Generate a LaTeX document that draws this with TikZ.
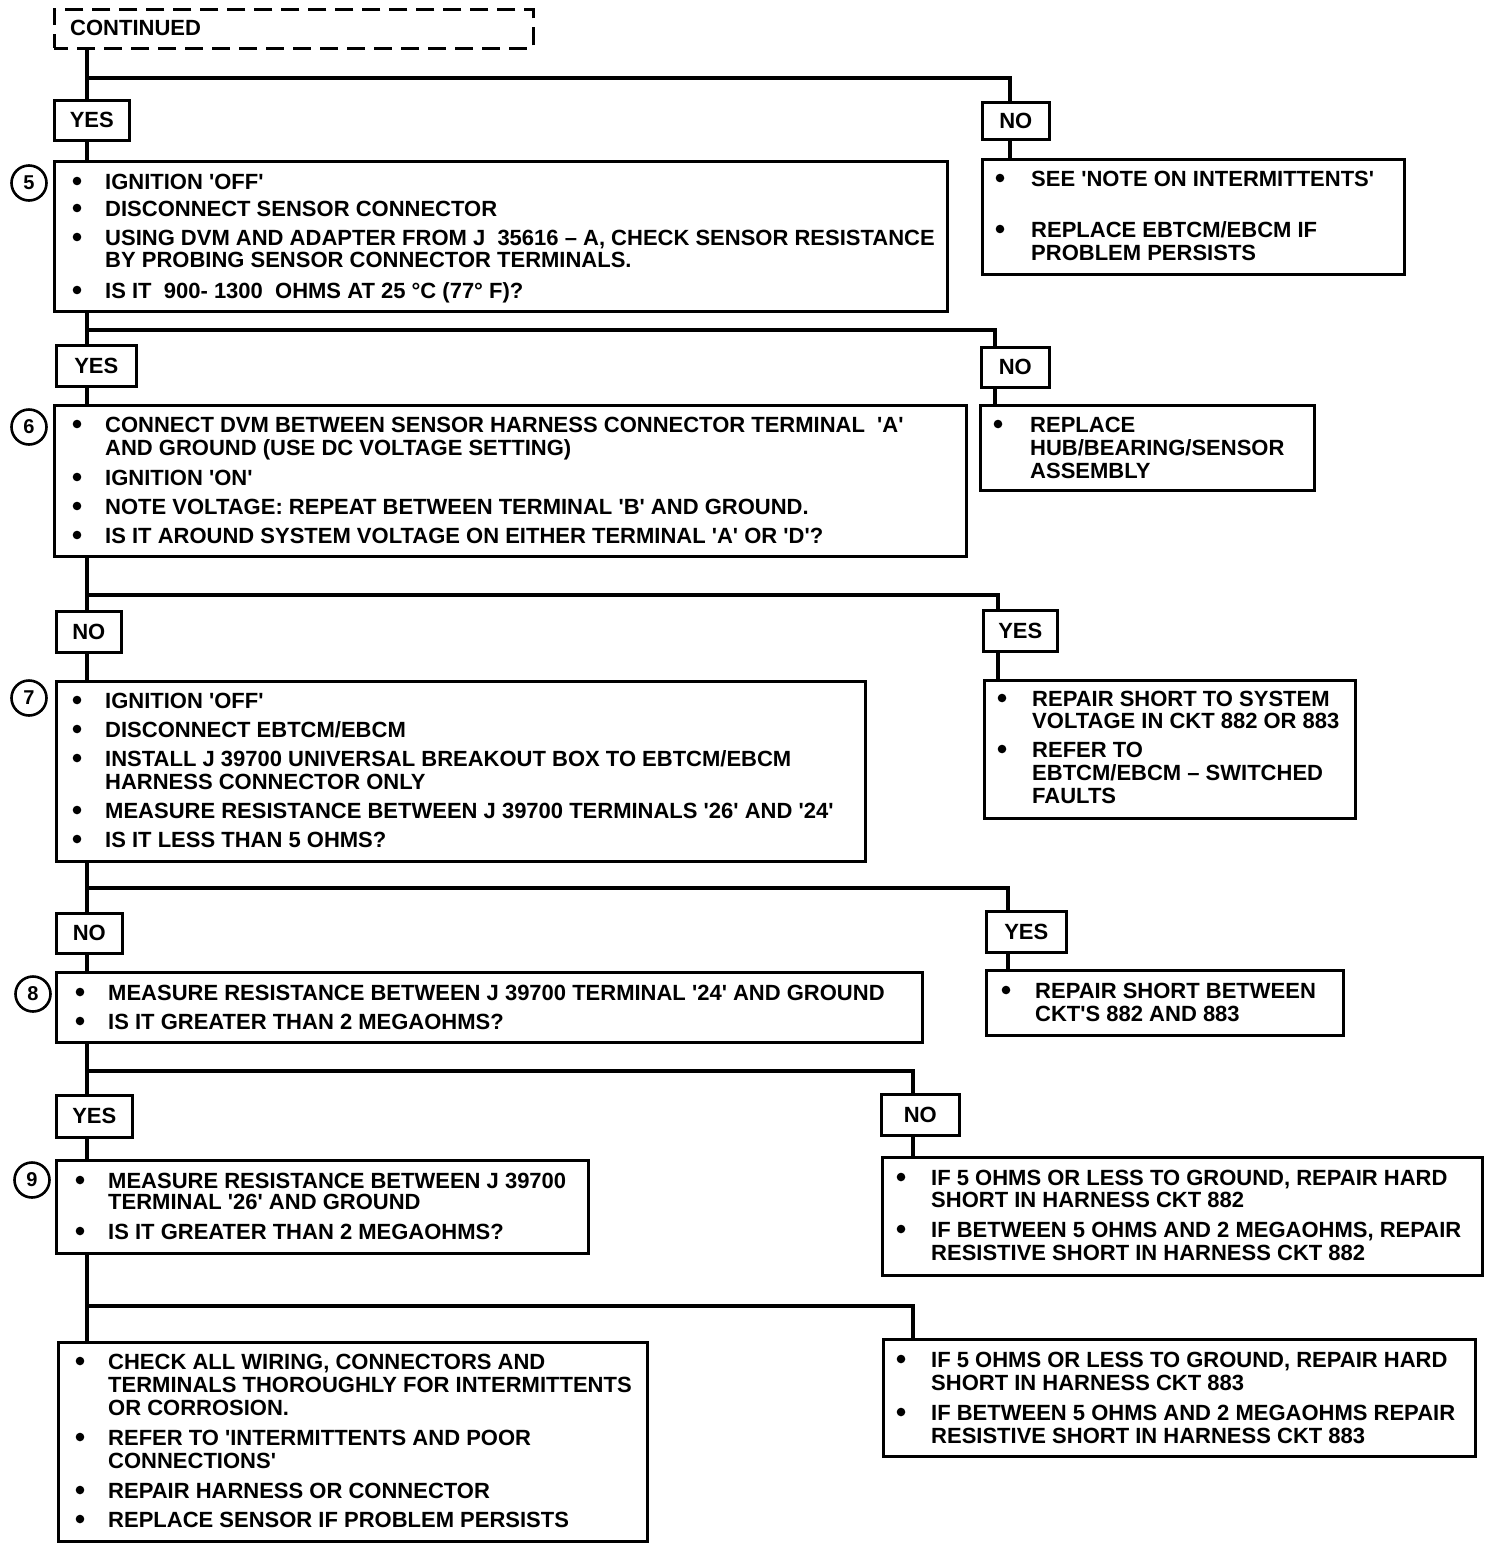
\documentclass[tikz,border=0pt]{standalone}
\usepackage{fontspec}
\setmainfont{Liberation Sans}[Ligatures=TeXOff]
\newcommand\tf{\fontsize{22}{22}\selectfont\bfseries}
\newcommand\nf{\fontsize{20}{20}\selectfont\bfseries}
\tikzset{
  box/.style={draw, line width=2.6pt, fill=white, inner sep=0pt, anchor=north west},
  lab/.style={draw, line width=2.6pt, fill=white, inner sep=0pt, anchor=north west, font=\tf},
  conn/.style={line width=4.5pt},
  txt/.style={inner sep=0pt, anchor=base west, font=\tf},
  num/.style={draw, circle, line width=2.6pt, minimum size=35pt, inner sep=0pt, font=\nf},
}
% box: name, x1, y1, x2, y2
\newcommand\bx[6][]{\node[box,#1, minimum width={(#4-#2)*1pt}, minimum height={(#5-#3)*1pt}] (#6) at (#2,#3) {};}
\newcommand\lb[6]{\node[lab, minimum width={(#4-#2)*1pt}, minimum height={(#5-#3)*1pt}] (#1) at (#2,#3) {#6};}
\newcommand\tl[4]{\node[txt] (#1) at (#2,#3+8) {#4};}
\newcommand\bul[2]{\fill (#1,#2) circle (4.3pt);}
\begin{document}
\begin{tikzpicture}[x=1pt,y=-1pt]
\useasboundingbox (0,0) rectangle (1504,1548);
\coordinate (sp) at (87,0);
% ---------- CONTINUED
\bx[dash pattern=on 18pt off 9pt, dash phase=4pt]{53}{8}{532}{47}{cont}
\tl{tc}{70}{27}{CONTINUED}
% ---------- level 5
\lb{yes1}{53}{99}{128}{139}{YES}
\lb{no1}{981}{101}{1048}{138}{NO}
\bx{53}{160}{946}{310}{b5}
\node[num] (n5) at (29,183) {5};
\bul{77}{181}\bul{77}{208}\bul{77}{237}\bul{77}{290}
\tl{t5a}{105}{181}{IGNITION 'OFF'}
\tl{t5b}{105}{208}{DISCONNECT SENSOR CONNECTOR}
\tl{t5c}{105}{237}{USING DVM AND ADAPTER FROM J \ 35616 – A, CHECK SENSOR RESISTANCE}
\tl{t5d}{105}{259}{BY PROBING SENSOR CONNECTOR TERMINALS.}
\tl{t5e}{105}{290}{IS IT \ 900- 1300 \ OHMS AT 25 °C (77° F)?}
\bx{981}{158}{1403}{273}{r5}
\bul{1000}{178}\bul{1000}{229}
\tl{r5a}{1031}{178}{SEE 'NOTE ON INTERMITTENTS'}
\tl{r5b}{1031}{229}{REPLACE EBTCM/EBCM IF}
\tl{r5c}{1031}{252}{PROBLEM PERSISTS}
\draw[conn] (cont.south -| sp) -- (yes1.north -| sp);
\draw[conn] (sp |- 0,78) -| (1010,0 |- no1.north);
\draw[conn] (yes1.south -| sp) -- (b5.north -| sp);
\draw[conn] (no1.south -| 1010,0) -- (r5.north -| 1010,0);
% ---------- level 6
\lb{yes2}{55}{344}{135}{385}{YES}
\lb{no2}{980}{346}{1048}{386}{NO}
\bx{53}{404}{965}{555}{b6}
\node[num] (n6) at (29,427) {6};
\bul{77}{424}\bul{77}{477}\bul{77}{506}\bul{77}{535}
\tl{t6a}{105}{424}{CONNECT DVM BETWEEN SENSOR HARNESS CONNECTOR TERMINAL \ 'A'}
\tl{t6b}{105}{447}{AND GROUND (USE DC VOLTAGE SETTING)}
\tl{t6c}{105}{477}{IGNITION 'ON'}
\tl{t6d}{105}{506}{NOTE VOLTAGE: REPEAT BETWEEN TERMINAL 'B' AND GROUND.}
\tl{t6e}{105}{535}{IS IT AROUND SYSTEM VOLTAGE ON EITHER TERMINAL 'A' OR 'D'?}
\bx{979}{404}{1313}{489}{r6}
\bul{998}{424}
\tl{r6a}{1030}{424}{REPLACE}
\tl{r6b}{1030}{447}{HUB/BEARING/SENSOR}
\tl{r6c}{1030}{470}{ASSEMBLY}
\draw[conn] (b5.south -| sp) -- (yes2.north -| sp);
\draw[conn] (sp |- 0,330) -| (995,0 |- no2.north);
\draw[conn] (yes2.south -| sp) -- (b6.north -| sp);
\draw[conn] (no2.south -| 995,0) -- (r6.north -| 995,0);
% ---------- level 7
\lb{no3}{55}{610}{120}{651}{NO}
\lb{yes3}{982}{609}{1056}{650}{YES}
\bx{55}{680}{864}{860}{b7}
\node[num] (n7) at (29,698) {7};
\bul{77}{700}\bul{77}{729}\bul{77}{758}\bul{77}{810}\bul{77}{839}
\tl{t7a}{105}{700}{IGNITION 'OFF'}
\tl{t7b}{105}{729}{DISCONNECT EBTCM/EBCM}
\tl{t7c}{105}{758}{INSTALL J 39700 UNIVERSAL BREAKOUT BOX TO EBTCM/EBCM}
\tl{t7d}{105}{781}{HARNESS CONNECTOR ONLY}
\tl{t7e}{105}{810}{MEASURE RESISTANCE BETWEEN J 39700 TERMINALS '26' AND '24'}
\tl{t7f}{105}{839}{IS IT LESS THAN 5 OHMS?}
\bx{983}{679}{1354}{817}{r7}
\bul{1002}{698}\bul{1002}{749}
\tl{r7a}{1032}{698}{REPAIR SHORT TO SYSTEM}
\tl{r7b}{1032}{720}{VOLTAGE IN CKT 882 OR 883}
\tl{r7c}{1032}{749}{REFER TO}
\tl{r7d}{1032}{772}{EBTCM/EBCM – SWITCHED}
\tl{r7e}{1032}{795}{FAULTS}
\draw[conn] (b6.south -| sp) -- (no3.north -| sp);
\draw[conn] (sp |- 0,595) -| (998,0 |- yes3.north);
\draw[conn] (no3.south -| sp) -- (b7.north -| sp);
\draw[conn] (yes3.south -| 998,0) -- (r7.north -| 998,0);
% ---------- level 8
\lb{no4}{55}{912}{121}{952}{NO}
\lb{yes4}{985}{910}{1065}{951}{YES}
\bx{55}{971}{921}{1041}{b8}
\node[num] (n8) at (33,994) {8};
\bul{80}{992}\bul{80}{1021}
\tl{t8a}{108}{992}{MEASURE RESISTANCE BETWEEN J 39700 TERMINAL '24' AND GROUND}
\tl{t8b}{108}{1021}{IS IT GREATER THAN 2 MEGAOHMS?}
\bx{985}{969}{1342}{1034}{r8}
\bul{1006}{990}
\tl{r8a}{1035}{990}{REPAIR SHORT BETWEEN}
\tl{r8b}{1035}{1013}{CKT'S 882 AND 883}
\draw[conn] (b7.south -| sp) -- (no4.north -| sp);
\draw[conn] (sp |- 0,888) -| (1008,0 |- yes4.north);
\draw[conn] (no4.south -| sp) -- (b8.north -| sp);
\draw[conn] (yes4.south -| 1008,0) -- (r8.north -| 1008,0);
% ---------- level 9
\lb{yes5}{55}{1094}{131}{1136}{YES}
\lb{no5}{880}{1093}{958}{1134}{NO}
\bx{55}{1159}{587}{1252}{b9}
\node[num] (n9) at (32,1180) {9};
\bul{80}{1180}\bul{80}{1231}
\tl{t9a}{108}{1180}{MEASURE RESISTANCE BETWEEN J 39700}
\tl{t9b}{108}{1201}{TERMINAL '26' AND GROUND}
\tl{t9c}{108}{1231}{IS IT GREATER THAN 2 MEGAOHMS?}
\bx{881}{1156}{1481}{1274}{r9}
\bul{901}{1177}\bul{901}{1229}
\tl{r9a}{931}{1177}{IF 5 OHMS OR LESS TO GROUND, REPAIR HARD}
\tl{r9b}{931}{1199}{SHORT IN HARNESS CKT 882}
\tl{r9c}{931}{1229}{IF BETWEEN 5 OHMS AND 2 MEGAOHMS, REPAIR}
\tl{r9d}{931}{1252}{RESISTIVE SHORT IN HARNESS CKT 882}
\draw[conn] (b8.south -| sp) -- (yes5.north -| sp);
\draw[conn] (sp |- 0,1071) -| (913,0 |- no5.north);
\draw[conn] (yes5.south -| sp) -- (b9.north -| sp);
\draw[conn] (no5.south -| 913,0) -- (r9.north -| 913,0);
% ---------- final level
\bx{57}{1341}{646}{1540}{b10}
\bul{80}{1361}\bul{80}{1437}\bul{80}{1490}\bul{80}{1519}
\tl{t10a}{108}{1361}{CHECK ALL WIRING, CONNECTORS AND}
\tl{t10b}{108}{1384}{TERMINALS THOROUGHLY FOR INTERMITTENTS}
\tl{t10c}{108}{1407}{OR CORROSION.}
\tl{t10d}{108}{1437}{REFER TO 'INTERMITTENTS AND POOR}
\tl{t10e}{108}{1460}{CONNECTIONS'}
\tl{t10f}{108}{1490}{REPAIR HARNESS OR CONNECTOR}
\tl{t10g}{108}{1519}{REPLACE SENSOR IF PROBLEM PERSISTS}
\bx{882}{1338}{1474}{1455}{r10}
\bul{901}{1359}\bul{901}{1412}
\tl{r10a}{931}{1359}{IF 5 OHMS OR LESS TO GROUND, REPAIR HARD}
\tl{r10b}{931}{1382}{SHORT IN HARNESS CKT 883}
\tl{r10c}{931}{1412}{IF BETWEEN 5 OHMS AND 2 MEGAOHMS REPAIR}
\tl{r10d}{931}{1435}{RESISTIVE SHORT IN HARNESS CKT 883}
\draw[conn] (b9.south -| sp) -- (b10.north -| sp);
\draw[conn] (sp |- 0,1306) -| (913,0 |- r10.north);
\end{tikzpicture}
\end{document}
